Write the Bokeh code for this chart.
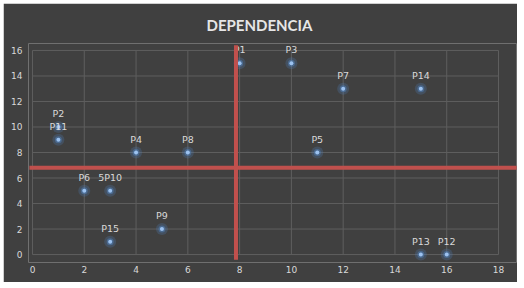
from bokeh.plotting import figure
from bokeh.models import ColumnDataSource, Range1d, LabelSet
from bokeh.core.properties import value
from bokeh.embed import file_html
from bokeh.resources import INLINE

# Data
title_text = "DEPENDENCIA"
labels = ["P1", "P2", "P3", "P4", "P5", "P6", "P7", "P8", "P9", "5P10",
          "P11", "P12", "P13", "P14", "P15"]
xs = [8, 1, 10, 4, 11, 2, 12, 6, 5, 3, 1, 16, 15, 15, 3]
ys = [15, 10, 15, 8, 8, 5, 13, 8, 2, 5, 9, 0, 0, 13, 1]

# Red reference lines
vline_x = [7.86, 7.86]
vline_y = [-0.4, 16.4]
hline_x = [-0.12, 18.7]
hline_y = [6.8, 6.8]

x_ticks = [0, 2, 4, 6, 8, 10, 12, 14, 16, 18]
y_ticks = [0, 2, 4, 6, 8, 10, 12, 14, 16]

BG = "#404040"
GRID = "#5e5e5e"
TXT = "#d9d9d9"

p = figure(width=514, height=279, output_backend="svg", toolbar_location=None,
           x_range=Range1d(-0.1545, 18.695), y_range=Range1d(-0.624, 16.546),
           min_border_left=25, min_border_right=1, min_border_top=39,
           min_border_bottom=20)
p.styles = {"margin-left": "3px", "margin-top": "3px"}
p.background_fill_color = BG
p.border_fill_color = BG
p.outline_line_color = None
p.xgrid.visible = False
p.ygrid.visible = False

p.title.text = title_text
p.title.align = "left"
p.title.offset = 178
p.title.text_font = "Lato"
p.title.text_font_size = "15px"
p.title.text_font_style = "bold"
p.title.text_color = "#e6e6e6"
p.title.standoff = 20

# grid lines
p.segment(x0=x_ticks, y0=[0] * len(x_ticks), x1=x_ticks, y1=[16] * len(x_ticks),
          line_color=GRID, line_width=1)
p.segment(x0=[0] * len(y_ticks), y0=y_ticks, x1=[18] * len(y_ticks), y1=y_ticks,
          line_color=GRID, line_width=1)

for ax in (p.xaxis, p.yaxis):
    ax.axis_line_color = None
    ax.major_tick_line_color = None
    ax.minor_tick_line_color = None
    ax.major_tick_out = 0
    ax.major_tick_in = 0
    ax.minor_tick_out = 0
    ax.major_label_text_color = TXT
    ax.major_label_text_font = "DejaVu Sans"
    ax.major_label_text_font_size = "9px"
p.xaxis.ticker = x_ticks
p.yaxis.ticker = y_ticks
p.xaxis.major_label_standoff = 3
p.yaxis.major_label_standoff = 6

src = ColumnDataSource(dict(x=xs, y=ys, label=labels))

# glowing points
p.scatter("x", "y", source=src, size=12, fill_color="#4f81bd", fill_alpha=0.25,
          line_color=None)
p.scatter("x", "y", source=src, size=7, fill_color="#4f81bd", fill_alpha=0.5,
          line_color=None)
p.scatter("x", "y", source=src, size=4, fill_color="#9cc2f0", line_color=None)

p.add_layout(LabelSet(x="x", y="y", text="label", source=src, y_offset=8,
                      text_align="center", text_baseline="bottom",
                      text_font=value("DejaVu Sans"), text_font_size=value("9.5px"),
                      text_color=TXT))

# red lines (drawn above the point labels)
p.line(vline_x, vline_y, line_color="#c0504d", line_width=4, level="overlay")
p.line(hline_x, hline_y, line_color="#c0504d", line_width=4, level="overlay")

open("out.html", "w").write(file_html(p, INLINE))
